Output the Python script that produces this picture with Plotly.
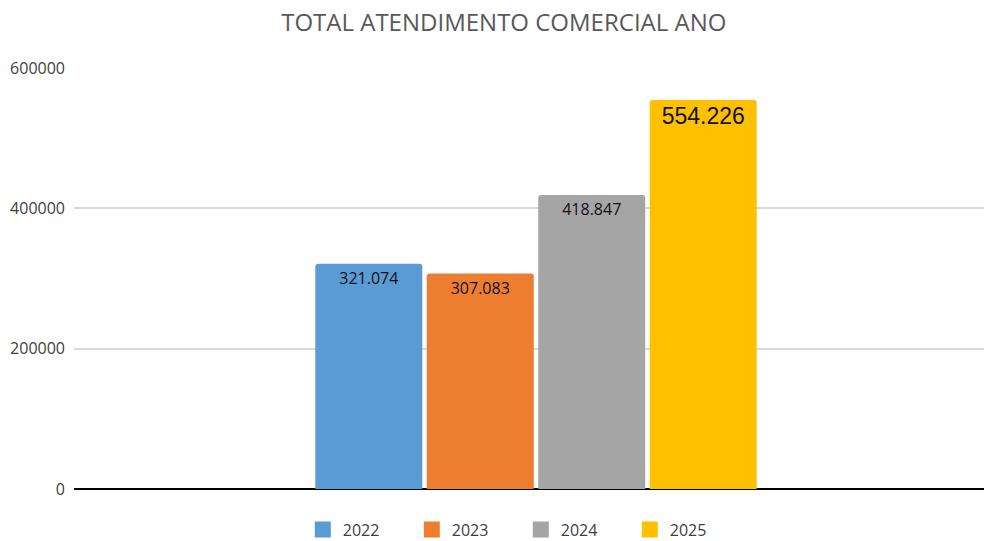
import plotly.graph_objects as go

YEARS = ["2022", "2023", "2024", "2025"]
TOTALS = [321074, 307083, 418847, 554226]
COLORS = ["#5B9BD5", "#ED7D31", "#A5A5A5", "#FFC000"]
LABEL_SIZES = [16, 16, 16, 23]
CATEGORY = ["Total"]
Y_TICKS = [0, 200000, 400000, 600000]

fig = go.Figure()
for year, total, color, size in zip(YEARS, TOTALS, COLORS, LABEL_SIZES):
    fig.add_trace(
        go.Bar(
            x=CATEGORY,
            y=[total],
            name=year,
            marker={"color": color, "line": {"width": 0}},
            texttemplate="%{y:,}",
            textposition="inside",
            insidetextanchor="end",
            textfont={"color": "#111111", "size": size,
                      "family": "Liberation Sans" if size > 16 else "Open Sans"},
            showlegend=False,
        )
    )
    # legend-only marker so the swatch is a square like the original
    fig.add_trace(
        go.Scatter(
            x=[None],
            y=[None],
            mode="markers",
            name=year,
            marker={"color": color, "symbol": "square", "size": 16},
        )
    )

fig.update_layout(
    width=984,
    height=541,
    separators=",.",
    barmode="group",
    bargap=0.51,
    bargroupgap=0.04,
    barcornerradius=3,
    plot_bgcolor="white",
    paper_bgcolor="white",
    font={"family": "Open Sans", "color": "#404040", "size": 16},
    title={
        "text": "TOTAL ATENDIMENTO COMERCIAL ANO",
        "x": 0.512,
        "xanchor": "center",
        "y": 0.958,
        "yanchor": "middle",
        "font": {"size": 24, "color": "#595959", "family": "Open Sans"},
    },
    margin={"l": 74, "r": 0, "t": 68, "b": 52, "autoexpand": False},
    xaxis={
        "showticklabels": False,
        "showgrid": False,
        "zeroline": False,
        "range": [-0.5077, 0.4923],
    },
    yaxis={
        "range": [0, 600000],
        "tickvals": Y_TICKS,
        "tickformat": "d",
        "showgrid": True,
        "gridcolor": "#D9D9D9",
        "gridwidth": 2,
        "zeroline": True,
        "zerolinecolor": "#000000",
        "zerolinewidth": 2,
        "ticks": "",
        "ticklabelstandoff": 8,
        "tickfont": {"size": 16, "color": "#404040"},
    },
    legend={
        "orientation": "h",
        "x": 0.491,
        "xanchor": "center",
        "y": -0.056,
        "yanchor": "top",
        "font": {"size": 16, "color": "#404040"},
        "entrywidth": 64,
        "tracegroupgap": 0,
    },
)

fig.write_html(
    "out.html",
    config={"displayModeBar": False},
    post_script="document.body.style.margin='0';",
)
